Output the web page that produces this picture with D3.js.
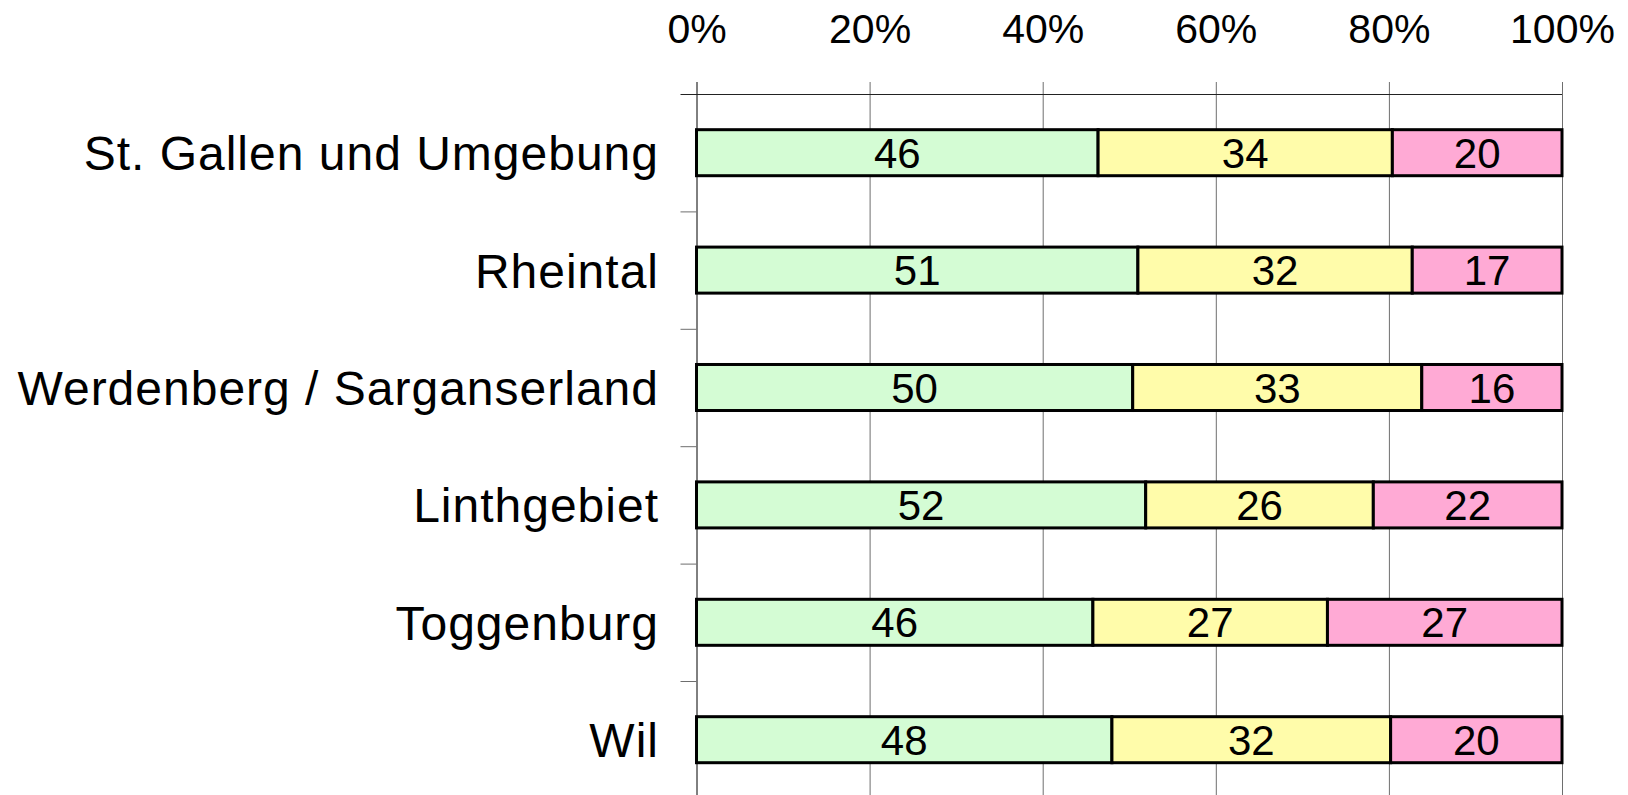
<!DOCTYPE html>
<html>
<head>
<meta charset="utf-8">
<script src="https://cdn.jsdelivr.net/npm/d3@7"></script>
<style>
	body { margin: 0; background: #fff; }
	svg { display: block; font-family: 'Liberation Sans', Arial, sans-serif; }
	.grid line { stroke: #6e6e6e; stroke-width: 1; }
	.grid .domain { display: none; }
	.tick-label .domain, .tick-label line { display: none; }
	.tick-label text { font-size: 41px; fill: #000; }
	.cat-label { font-size: 48px; letter-spacing: 1px; fill: #000; }
	.value-label { font-size: 42px; fill: #000; }
</style>
</head>
<body>
<svg id="chart"></svg>
<script>
const CATEGORIES = [
	'St. Gallen und Umgebung',
	'Rheintal',
	'Werdenberg / Sarganserland',
	'Linthgebiet',
	'Toggenburg',
	'Wil'
];

// share per region, in percent (left, middle, right segment)
const SHARE_GREEN = [46.4, 51.0, 50.4, 51.9, 45.8, 48.0];
const SHARE_YELLOW = [34.0, 31.7, 33.4, 26.3, 27.1, 32.2];
const SHARE_PINK = [19.6, 17.3, 16.2, 21.8, 27.1, 19.8];

const TICKS = [0, 20, 40, 60, 80, 100];

const COLORS = ['#d4fcd4', '#fffcaa', '#ffaad5'];

const SVG_WIDTH = 1628;
const SVG_HEIGHT = 795;

const PLOT = {
	left: 696.5,
	right: 1562,
	top: 94,
	step: 117.4
};

const x = d3.scaleLinear().domain([0, 100]).range([PLOT.left, PLOT.right]);
const y = d3.scaleBand()
	.domain(CATEGORIES)
	.range([PLOT.top, PLOT.top + PLOT.step * CATEGORIES.length])
	.paddingInner(0.608)
	.paddingOuter(0.304);

const svg = d3.select('#chart')
	.attr('width', SVG_WIDTH)
	.attr('height', SVG_HEIGHT);

// vertical grid lines, they poke out a little above the top line
svg.append('g')
	.attr('class', 'grid')
	.attr('transform', 'translate(0, 82)')
	.call(d3.axisBottom(x).tickValues(TICKS).tickSize(SVG_HEIGHT + 20).tickFormat(''));

svg.select('.grid .tick line').style('stroke', '#000');

// top line and the little ticks between the rows
const rowEdges = CATEGORIES.map((c, i) => PLOT.top + i * y.step());

svg.append('line')
	.attr('x1', PLOT.left - 16)
	.attr('x2', x(100))
	.attr('y1', PLOT.top + 0.5)
	.attr('y2', PLOT.top + 0.5)
	.attr('stroke', '#222');

svg.selectAll('.row-tick')
	.data(rowEdges.slice(1))
	.enter()
	.append('line')
		.attr('class', 'row-tick')
		.attr('x1', PLOT.left - 16)
		.attr('x2', PLOT.left)
		.attr('y1', d => d + 0.5)
		.attr('y2', d => d + 0.5)
		.attr('stroke', '#6e6e6e');

// percent labels on top
svg.append('g')
	.attr('class', 'tick-label')
	.attr('transform', 'translate(0, 43)')
	.call(d3.axisTop(x).tickValues(TICKS).tickSize(0).tickPadding(0).tickFormat(d => d + '%'));

// stacked segments
const rows = CATEGORIES.map((name, i) => {
	const values = [SHARE_GREEN[i], SHARE_YELLOW[i], SHARE_PINK[i]];
	let start = 0;
	return values.map((v, k) => {
		const seg = { name: name, x0: start, x1: start + v, value: v, fill: COLORS[k] };
		start += v;
		return seg;
	});
});
const segments = rows.flat();
// last segment always closes at 100 %
rows.forEach(r => { r[r.length - 1].x1 = 100; });

svg.selectAll('.bar')
	.data(segments)
	.enter()
	.append('rect')
		.attr('class', 'bar')
		.attr('x', d => x(d.x0))
		.attr('y', d => y(d.name))
		.attr('width', d => x(d.x1) - x(d.x0))
		.attr('height', y.bandwidth())
		.attr('fill', d => d.fill)
		.attr('stroke', '#000')
		.attr('stroke-width', 3);

svg.selectAll('.value-label')
	.data(segments)
	.enter()
	.append('text')
		.attr('class', 'value-label')
		.attr('x', d => x((d.x0 + d.x1) / 2))
		.attr('y', d => y(d.name) + y.bandwidth() / 2 + 15)
		.attr('text-anchor', 'middle')
		.text(d => Math.round(d.value));

svg.selectAll('.cat-label')
	.data(CATEGORIES)
	.enter()
	.append('text')
		.attr('class', 'cat-label')
		.attr('x', 659)
		.attr('y', d => y(d) + y.bandwidth() / 2 + 17.5)
		.attr('text-anchor', 'end')
		.text(d => d);
</script>
</body>
</html>
